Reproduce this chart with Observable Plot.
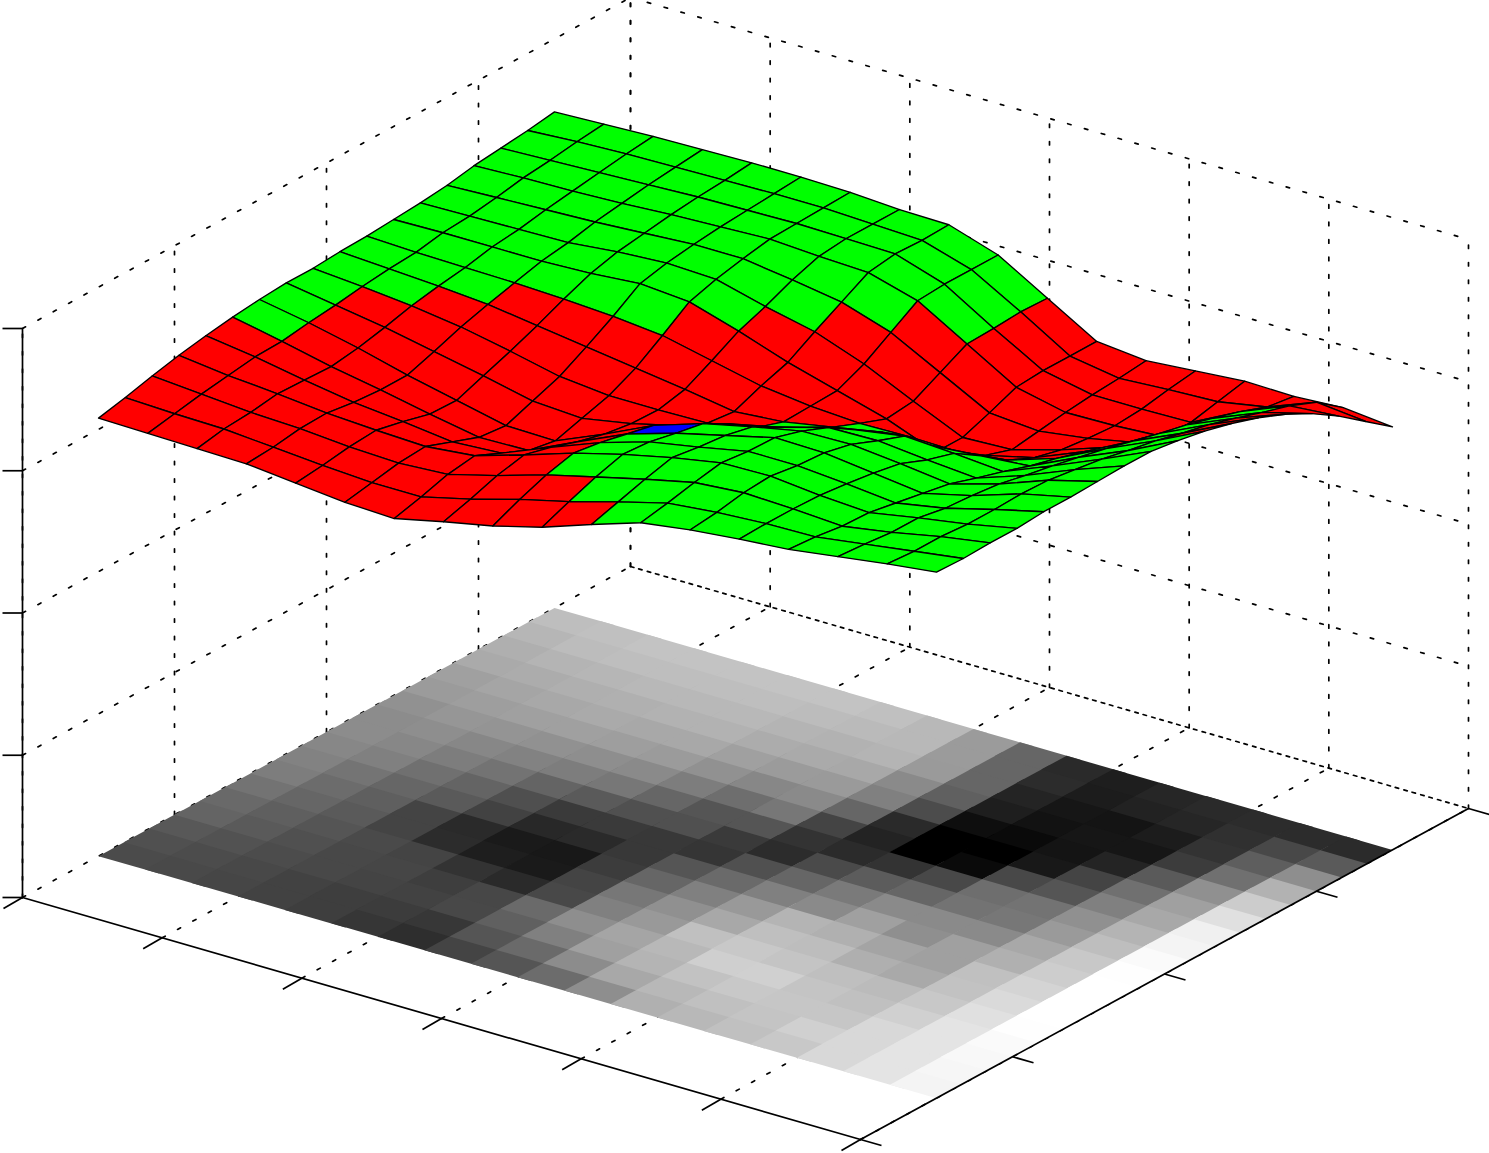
<!DOCTYPE html>
<html><head><meta charset="utf-8">
<style>html,body{margin:0;padding:0;background:#fff}svg{display:block}</style>
<script src="https://cdn.jsdelivr.net/npm/d3@7"></script>
<script src="https://cdn.jsdelivr.net/npm/@observablehq/plot@0.6"></script>
</head><body><div id="chart"></div>
<script>
const xTicks=[0,1,2,3,4,5,6];
const yTicks=[0,1,2,3,4];
const zTicks=[0,1,2,3,4];
const heightPerZ=142.25;
const surfaceHeights=[
[438,444,451,457,462,466,469,471,471,473,474,476,478,481,486,489,492,496],
[437,442,447,451,455,456,460,463,467,470,472,477,479,483,488,491,495,498],
[436,441,443,447,446,445,449,455,462,467,471,477,480,485,489,493,497,500],
[435,437,441,442,438,436,436,445,455,463,470,477,481,487,491,495,498,501],
[430,433,437,439,433,426,425,435,445,456,468,479,486,490,494,497,499,502],
[425,430,435,437,427,417,414,424,434,449,465,483,489,493,496,498,500,502],
[423,430,438,442,430,418,413,421,429,442,460,479,487,493,498,499,500,501],
[434,442,451,457,450,441,434,430,429,435,449,464,474,486,495,498,498,498],
[444,456,466,473,469,463,457,442,430,427,438,447,463,478,493,497,496,497],
[457,468,478,486,484,478,473,458,440,431,432,433,445,462,479,481,481,481],
[474,482,490,497,493,490,484,469,454,440,429,419,422,436,450,451,453,452],
[490,495,501,506,503,502,494,483,466,449,430,400,400,410,421,423,423,423],
[497,500,505,507,503,501,495,484,474,450,429,411,402,406,410,413,415,418],
[502,503,503,502,499,495,490,479,471,454,435,423,416,413,411,413,418,422],
[506,504,500,499,494,489,484,475,467,458,451,443,433,423,414,414,420,426],
[513,511,508,508,503,501,498,492,487,481,475,468,461,455,447,439,429,425],
[520,518,518,516,516,517,516,512,508,502,497,490,484,476,467,459,448,428],
[526,525,526,526,528,528,529,530,530,526,521,514,505,494,480,463,443,423]];
const faceKinds=[
"RRRRRGGGGGGGGGGGG",
"RRRRRRRRGGGGGGGGG",
"RRRRRRRRRGGGGGGGG",
"RRRRRRRRRRGGGGGGG",
"RRRRRRRRRRGGGGGGG",
"RRRRRRRRRRGGGGGGG",
"RRRRRRRRRRRGGGGGG",
"RRRRRRRRRRRRGGGGG",
"RRGGGBRRRRRRRGGGG",
"RGGGGGGGGRRRRRGGG",
"GGGGGGGGGGRRRRRRR",
"GGGGGGGGGGRRRRRRR",
"GGGGGGGGGGRRRRRRR",
"GGGGGGGGGGRRRRRRR",
"GGGGGGGGGGGGRRRRR",
"GGGGGGGGGGGGGGGGR",
"GGGGGGGGGGRRRRRRR"];
const kindColors={R:"#ff0000",G:"#00ff00",B:"#0000ff"};
const floorGray=[
[75,80,88,100,105,115,125,130,135,140,140,145,155,160,170,175,182,190],
[73,76,82,90,95,102,108,116,128,135,142,150,158,165,172,180,188,192],
[70,72,76,80,85,90,95,102,112,125,135,148,160,168,175,182,190,195],
[66,66,72,72,74,68,68,90,100,115,130,145,160,170,176,184,190,195],
[62,62,68,70,68,44,42,66,79,100,125,142,158,168,178,184,190,195],
[54,60,66,62,51,30,26,40,58,90,119,138,155,168,178,184,190,195],
[46,55,72,71,42,26,24,42,58,80,102,125,145,160,172,180,188,195],
[68,85,96,106,72,68,60,56,56,80,85,110,135,155,170,178,186,192],
[85,106,128,142,128,119,102,85,53,58,85,119,138,154,168,180,184,184],
[108,140,160,165,153,144,128,106,80,44,51,68,102,128,138,154,155,155],
[142,168,180,184,192,168,153,128,102,74,43,35,42,76,96,102,102,102],
[176,184,194,207,200,191,180,138,122,92,51,0,0,14,30,36,44,42],
[184,192,200,208,196,189,176,160,138,102,72,10,0,10,18,22,28,30],
[192,196,198,196,191,175,164,143,138,115,110,72,24,20,22,20,34,38],
[200,208,198,192,187,169,160,160,138,119,115,85,68,36,22,28,38,42],
[216,216,216,208,200,194,192,176,168,154,144,128,112,90,60,51,48,44],
[228,228,228,228,224,218,212,205,200,190,180,168,160,144,112,94,72,44],
[244,246,248,250,254,255,255,255,254,250,244,240,224,204,178,142,90,43]];

// orthographic view of the axes box
const origin=[22,897], xStep=[838/6,242/6], yStep=[608/4,-331/4], zStep=142.25;
const px=(x,y,z=0)=>origin[0]+x*xStep[0]+y*yStep[0];
const py=(x,y,z=0)=>origin[1]+x*xStep[1]+y*yStep[1]-z*zStep;
const xMax=6,yMax=4,zMax=4,yLow=0.5,ySpan=3;

function seg(list,id,a,b){list.push({id,x:px(...a),y:py(...a)},{id,x:px(...b),y:py(...b)});}
const grid=[];
xTicks.forEach((t,k)=>{ seg(grid,"fx"+k,[t,0,0],[t,yMax,0]); seg(grid,"wx"+k,[t,yMax,0],[t,yMax,zMax]);});
yTicks.forEach((t,k)=>{ if(k>0) seg(grid,"fy"+k,[0,t,0],[xMax,t,0]); seg(grid,"wy"+k,[0,t,0],[0,t,zMax]);});
zTicks.forEach((t,k)=>{ if(k>0){seg(grid,"zl"+k,[0,0,t],[0,yMax,t]); seg(grid,"zb"+k,[0,yMax,t],[xMax,yMax,t]);}});
const backFloor=[];
seg(backFloor,"bz",[0,yMax,0],[xMax,yMax,0]);

const axisLines=[];
seg(axisLines,"ax",[0,0,0],[xMax,0,0]);
seg(axisLines,"ay",[xMax,0,0],[xMax,yMax,0]);
seg(axisLines,"az",[0,0,0],[0,0,zMax]);

const tickLinks=[
 ...xTicks.map(t=>({x1:px(t,0),y1:py(t,0),x2:px(t,0)-19,y2:py(t,0)+11})),
 ...yTicks.map(t=>({x1:px(xMax,t),y1:py(xMax,t),x2:px(xMax,t)+21,y2:py(xMax,t)+6})),
 ...zTicks.map(t=>({x1:px(0,0,t),y1:py(0,0,t),x2:px(0,0,t)-20,y2:py(0,0,t)}))];

// floor cells overlap the next cell a little, which is then painted over, so no seams show
const floorCells=[];
const nF=floorGray.length, overlap=0.3;
floorGray.forEach((row,a)=>row.forEach((g,b)=>{
  const X=v=>Math.min(v,nF)*xMax/nF, Y=v=>yLow+Math.min(v,nF)*ySpan/nF, c=`rgb(${g},${g},${g})`;
  const a2=a+1+overlap,b2=b+1+overlap;
  [[a,b],[a2,b],[a2,b2],[a,b2]].forEach(([p,q])=>floorCells.push({id:a+"-"+b,x:px(X(p),Y(q)),y:py(X(p),Y(q)),c}));
}));

const faces=[];
const nS=surfaceHeights.length-1;
const vert=(i,j)=>{const X=i*xMax/nS,Y=yLow+j*ySpan/nS,Z=surfaceHeights[i][j]/heightPerZ;return [px(X,Y,Z),py(X,Y,Z)];};
for(let j=nS-1;j>=0;j--) for(let i=0;i<nS;i++){
  const c=kindColors[faceKinds[i][j]];
  [[i,j],[i+1,j],[i+1,j+1],[i,j+1]].forEach(([p,q])=>{const [x,y]=vert(p,q);faces.push({id:i+"-"+j,x,y,c});});
}

const fig=Plot.plot({
  width:1489,height:1153,margin:0,
  style:{background:"#fff"},
  x:{domain:[0,1489],range:[0,1489],axis:null},
  y:{domain:[0,1153],range:[0,1153],axis:null},
  color:{type:"identity"},
  marks:[
    Plot.line(grid,{x:"x",y:"y",z:"id",stroke:"#000",strokeWidth:1.7,strokeDasharray:"3.5 14"}),
    Plot.line(backFloor,{x:"x",y:"y",z:"id",stroke:"#000",strokeWidth:1.7,strokeDasharray:"3.5 14",strokeDashoffset:9}),
    Plot.line(floorCells,{x:"x",y:"y",z:"id",fill:"c",stroke:"none",curve:"linear-closed"}),
    Plot.line(faces,{x:"x",y:"y",z:"id",fill:"c",stroke:"#000",strokeWidth:1.35,strokeLinejoin:"round",curve:"linear-closed"}),
    Plot.line(axisLines,{x:"x",y:"y",z:"id",stroke:"#000",strokeWidth:1.7}),
    Plot.link(tickLinks,{x1:"x1",y1:"y1",x2:"x2",y2:"y2",stroke:"#000",strokeWidth:1.7})
  ]
});
document.getElementById("chart").appendChild(fig);
</script></body></html>
